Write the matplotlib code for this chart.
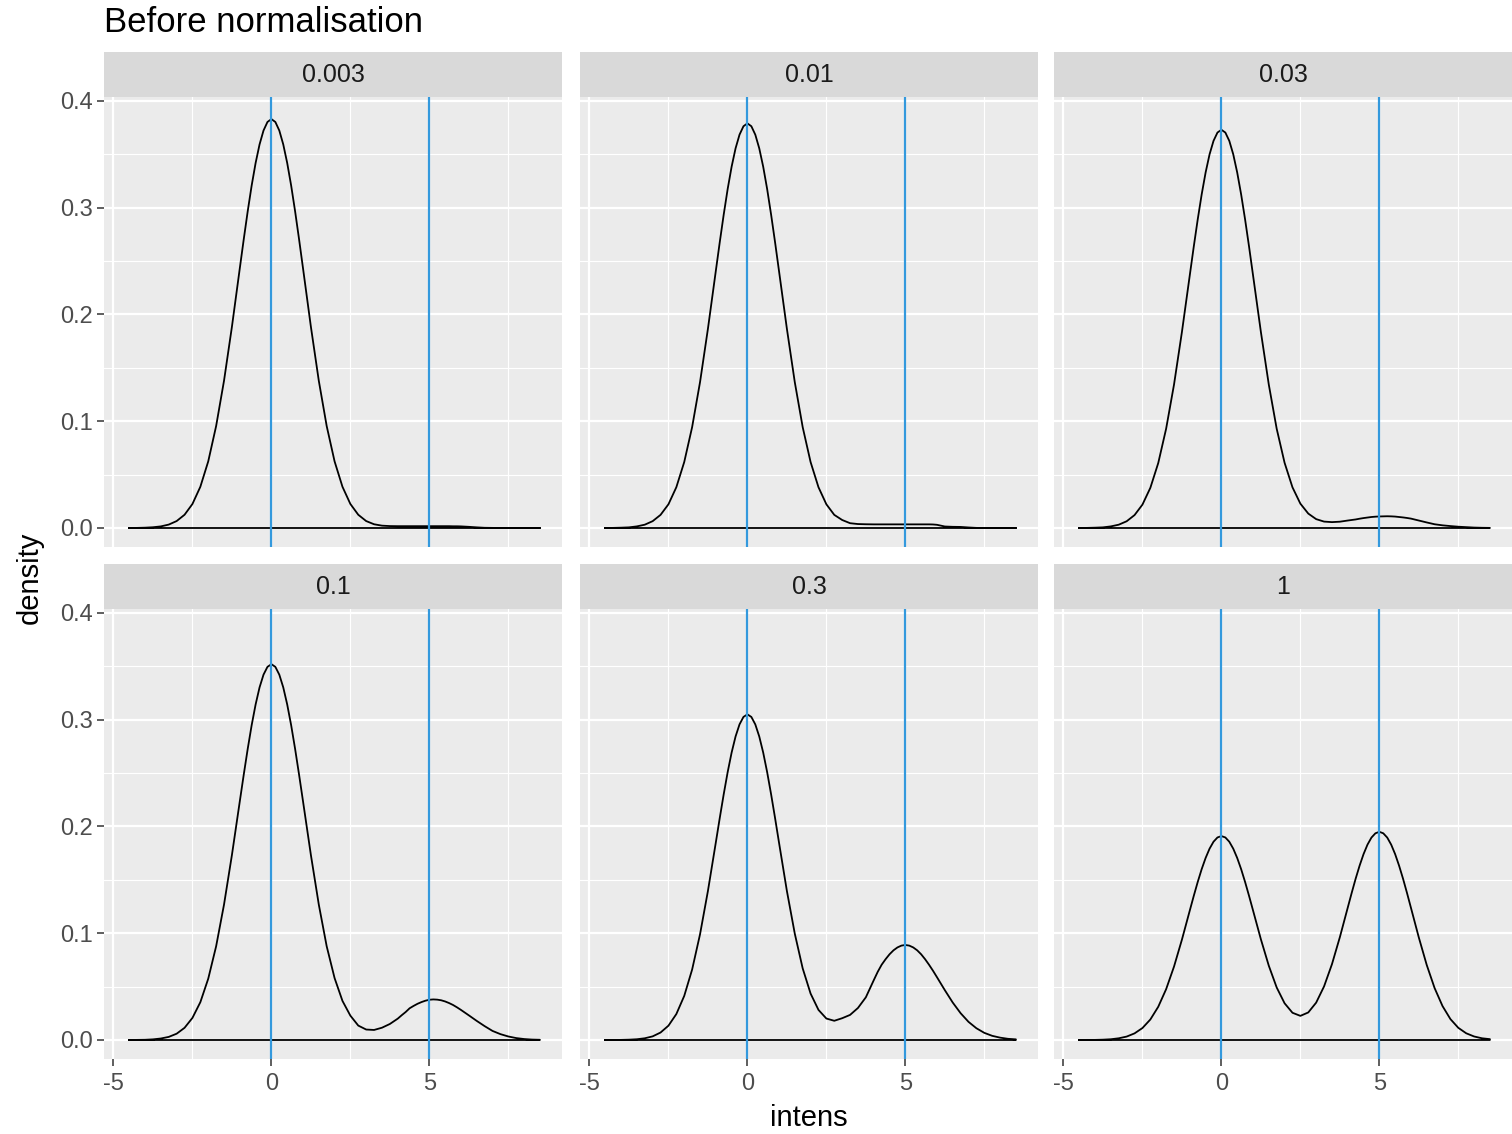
import numpy as np
import matplotlib
matplotlib.use("Agg")
import matplotlib.pyplot as plt

plt.rcParams['font.family'] = ['Liberation Sans', 'DejaVu Sans']

# panel labels (facet values)
facets = ['0.003', '0.01', '0.03', '0.1', '0.3', '1']

# x positions the densities were read at (finer around the peaks)
intens = [-4.5, -4.25, -4.0, -3.75, -3.5, -3.25, -3.0, -2.75, -2.5, -2.25,
          -2.0, -1.75, -1.5, -1.25, -1.0,
          -0.875, -0.75, -0.625, -0.5, -0.375, -0.25, -0.125, 0.0,
          0.125, 0.25, 0.375, 0.5, 0.625, 0.75, 0.875,
          1.0, 1.25, 1.5, 1.75, 2.0, 2.25, 2.5, 2.75, 3.0, 3.25, 3.5, 3.75, 4.0,
          4.125, 4.25, 4.375, 4.5, 4.625, 4.75, 4.875, 5.0,
          5.125, 5.25, 5.375, 5.5, 5.625, 5.75, 5.875,
          6.0, 6.25, 6.5, 6.75, 7.0, 7.25, 7.5, 7.75, 8.0, 8.25, 8.5]

dens_0003 = [0.0000, 0.0001, 0.0003, 0.0007, 0.0015, 0.0032, 0.0065, 0.0124, 0.0225, 0.0386,
             0.0624, 0.0955, 0.1380, 0.1885, 0.2434,
             0.2706, 0.2967, 0.3208, 0.3419, 0.3593, 0.3723, 0.3803, 0.3830,
             0.3803, 0.3723, 0.3593, 0.3419, 0.3208, 0.2967, 0.2706,
             0.2434, 0.1885, 0.1380, 0.0955, 0.0624, 0.0386, 0.0225, 0.0124, 0.0065, 0.0035, 0.0022, 0.0018, 0.0017,
             0.0017, 0.0017, 0.0017, 0.0017, 0.0017, 0.0017, 0.0017, 0.0017,
             0.0017, 0.0017, 0.0017, 0.0017, 0.0017, 0.0016, 0.0016,
             0.0015, 0.0011, 0.0006, 0.0002, 0.0001, 0.0000, 0.0000, 0.0000, 0.0000, 0.0000, 0.0000]

dens_001 = [0.0000, 0.0001, 0.0003, 0.0006, 0.0015, 0.0031, 0.0064, 0.0123, 0.0222, 0.0382,
            0.0618, 0.0945, 0.1366, 0.1866, 0.2408,
            0.2678, 0.2936, 0.3175, 0.3384, 0.3556, 0.3684, 0.3763, 0.3790,
            0.3763, 0.3684, 0.3556, 0.3384, 0.3175, 0.2936, 0.2678,
            0.2408, 0.1866, 0.1366, 0.0945, 0.0618, 0.0382, 0.0222, 0.0123, 0.0075, 0.0045, 0.0037, 0.0035, 0.0034,
            0.0034, 0.0034, 0.0034, 0.0034, 0.0034, 0.0034, 0.0034, 0.0034,
            0.0034, 0.0034, 0.0034, 0.0034, 0.0034, 0.0034, 0.0033,
            0.0030, 0.0014, 0.0011, 0.0010, 0.0005, 0.0001, 0.0000, 0.0000, 0.0000, 0.0000, 0.0000]

dens_003 = [0.0000, 0.0001, 0.0003, 0.0006, 0.0015, 0.0031, 0.0063, 0.0121, 0.0219, 0.0376,
            0.0608, 0.0930, 0.1344, 0.1836, 0.2370,
            0.2636, 0.2890, 0.3124, 0.3330, 0.3500, 0.3626, 0.3704, 0.3730,
            0.3704, 0.3626, 0.3500, 0.3330, 0.3124, 0.2890, 0.2636,
            0.2370, 0.1836, 0.1344, 0.0930, 0.0611, 0.0381, 0.0228, 0.0135, 0.0083, 0.0060, 0.0055, 0.0059, 0.0070,
            0.0075, 0.0080, 0.0087, 0.0093, 0.0098, 0.0103, 0.0106, 0.0108,
            0.0109, 0.0110, 0.0109, 0.0107, 0.0103, 0.0099, 0.0094,
            0.0088, 0.0070, 0.0052, 0.0035, 0.0025, 0.0018, 0.0012, 0.0008, 0.0004, 0.0002, 0.0001]

dens_01 = [0.0000, 0.0001, 0.0002, 0.0006, 0.0014, 0.0029, 0.0059, 0.0114, 0.0207, 0.0354,
           0.0574, 0.0878, 0.1269, 0.1733, 0.2237,
           0.2487, 0.2727, 0.2949, 0.3143, 0.3303, 0.3422, 0.3495, 0.3520,
           0.3495, 0.3422, 0.3303, 0.3143, 0.2949, 0.2727, 0.2487,
           0.2237, 0.1733, 0.1269, 0.0878, 0.0580, 0.0366, 0.0228, 0.0135, 0.0098, 0.0094, 0.0115, 0.0150, 0.0200,
           0.0232, 0.0262, 0.0297, 0.0319, 0.0339, 0.0355, 0.0368, 0.0377,
           0.0380, 0.0378, 0.0372, 0.0361, 0.0346, 0.0328, 0.0306,
           0.0282, 0.0231, 0.0179, 0.0130, 0.0085, 0.0055, 0.0033, 0.0018, 0.0009, 0.0004, 0.0002]

dens_03 = [0.0000, 0.0000, 0.0001, 0.0003, 0.0007, 0.0016, 0.0034, 0.0070, 0.0134, 0.0243,
           0.0413, 0.0660, 0.0990, 0.1396, 0.1850,
           0.2080, 0.2302, 0.2509, 0.2692, 0.2843, 0.2956, 0.3026, 0.3050,
           0.3026, 0.2956, 0.2843, 0.2692, 0.2509, 0.2302, 0.2080,
           0.1850, 0.1396, 0.0996, 0.0671, 0.0435, 0.0282, 0.0201, 0.0180, 0.0204, 0.0235, 0.0300, 0.0400, 0.0560,
           0.0638, 0.0705, 0.0757, 0.0803, 0.0840, 0.0867, 0.0884, 0.0890,
           0.0884, 0.0867, 0.0840, 0.0803, 0.0757, 0.0705, 0.0649,
           0.0589, 0.0467, 0.0351, 0.0251, 0.0170, 0.0110, 0.0067, 0.0039, 0.0022, 0.0011, 0.0006]

dens_1 = [0.0000, 0.0001, 0.0001, 0.0003, 0.0007, 0.0016, 0.0032, 0.0062, 0.0112, 0.0192,
          0.0311, 0.0476, 0.0688, 0.0940, 0.1214,
          0.1350, 0.1480, 0.1600, 0.1705, 0.1792, 0.1857, 0.1897, 0.1910,
          0.1897, 0.1857, 0.1792, 0.1705, 0.1600, 0.1480, 0.1350,
          0.1215, 0.0943, 0.0696, 0.0492, 0.0344, 0.0255, 0.0226, 0.0258, 0.0350, 0.0502, 0.0710, 0.0963, 0.1240,
          0.1378, 0.1511, 0.1633, 0.1741, 0.1830, 0.1896, 0.1936, 0.1950,
          0.1936, 0.1896, 0.1830, 0.1741, 0.1633, 0.1511, 0.1378,
          0.1239, 0.0960, 0.0703, 0.0486, 0.0318, 0.0196, 0.0114, 0.0063, 0.0033, 0.0016, 0.0008]

densities = [dens_0003, dens_001, dens_003, dens_01, dens_03, dens_1]

# reference lines
vlines = [0, 5]

W, H = 1512, 1134
fig = plt.figure(figsize=(W / 100, H / 100), dpi=100)
fig.patch.set_facecolor('white')

col_left = [104, 580, 1054]
panel_w = 458
row_top = [97, 609]
panel_h = 450
strip_h = 45

bg = '#EBEBEB'
tick_col = '#4D4D4D'

for i, (lab, dens) in enumerate(zip(facets, densities)):
    r, c = divmod(i, 3)
    x0 = col_left[c] / W
    y0 = 1 - (row_top[r] + panel_h) / H
    ax = fig.add_axes([x0, y0, panel_w / W, panel_h / H])
    ax.set_facecolor(bg)
    for s in ax.spines.values():
        s.set_visible(False)

    ax.set_xlim(-5.3, 9.2)
    ax.set_ylim(-0.0178, 0.4037)
    ax.set_xticks([-5, 0, 5])
    ax.set_xticks([-2.5, 2.5, 7.5], minor=True)
    ax.set_yticks([0.0, 0.1, 0.2, 0.3, 0.4])
    ax.set_yticks([0.05, 0.15, 0.25, 0.35], minor=True)
    ax.grid(True, which='major', color='white', lw=1.6, zorder=0)
    ax.grid(True, which='minor', color='white', lw=0.8, zorder=0)
    ax.set_axisbelow(True)

    ax.tick_params(which='minor', length=0)
    ax.tick_params(which='major', length=5, width=1.1, color='#333333',
                   labelcolor=tick_col, labelsize=17)
    ax.tick_params(axis='x', pad=5)
    ax.tick_params(axis='y', pad=3)
    if c == 0:
        ax.set_yticklabels(['0.0', '0.1', '0.2', '0.3', '0.4'])
    else:
        ax.tick_params(axis='y', length=0, labelleft=False)
    if r == 1:
        ax.set_xticklabels(['-5', '0', '5'])
    else:
        ax.tick_params(axis='x', length=0, labelbottom=False)

    # density outline, closed along the baseline like geom_density
    xs = list(intens) + [intens[-1], intens[0], intens[0]]
    ys = list(dens) + [0, 0, dens[0]]
    ax.plot(xs, ys, color='black', lw=1.3, zorder=3, solid_joinstyle='round')

    for v in vlines:
        ax.axvline(v, color='#3399DD', lw=1.6, zorder=4)

    # facet strip
    sy0 = 1 - row_top[r] / H
    sax = fig.add_axes([x0, sy0, panel_w / W, strip_h / H])
    sax.set_facecolor('#D9D9D9')
    sax.set_xticks([])
    sax.set_yticks([])
    for s in sax.spines.values():
        s.set_visible(False)
    sax.text(0.5, 0.5, lab, ha='center', va='center', fontsize=18,
             color='#1A1A1A', transform=sax.transAxes)

fig.text(104 / W, 1 - 22 / H, 'Before normalisation', ha='left', va='center',
         fontsize=25, color='black')
fig.text(809 / W, 1 - 1118 / H, 'intens', ha='center', va='center',
         fontsize=21, color='black')
fig.text(30 / W, 1 - 578 / H, 'density', ha='center', va='center',
         rotation=90, fontsize=21, color='black')

fig.savefig('out.png', dpi=100, facecolor='white')
